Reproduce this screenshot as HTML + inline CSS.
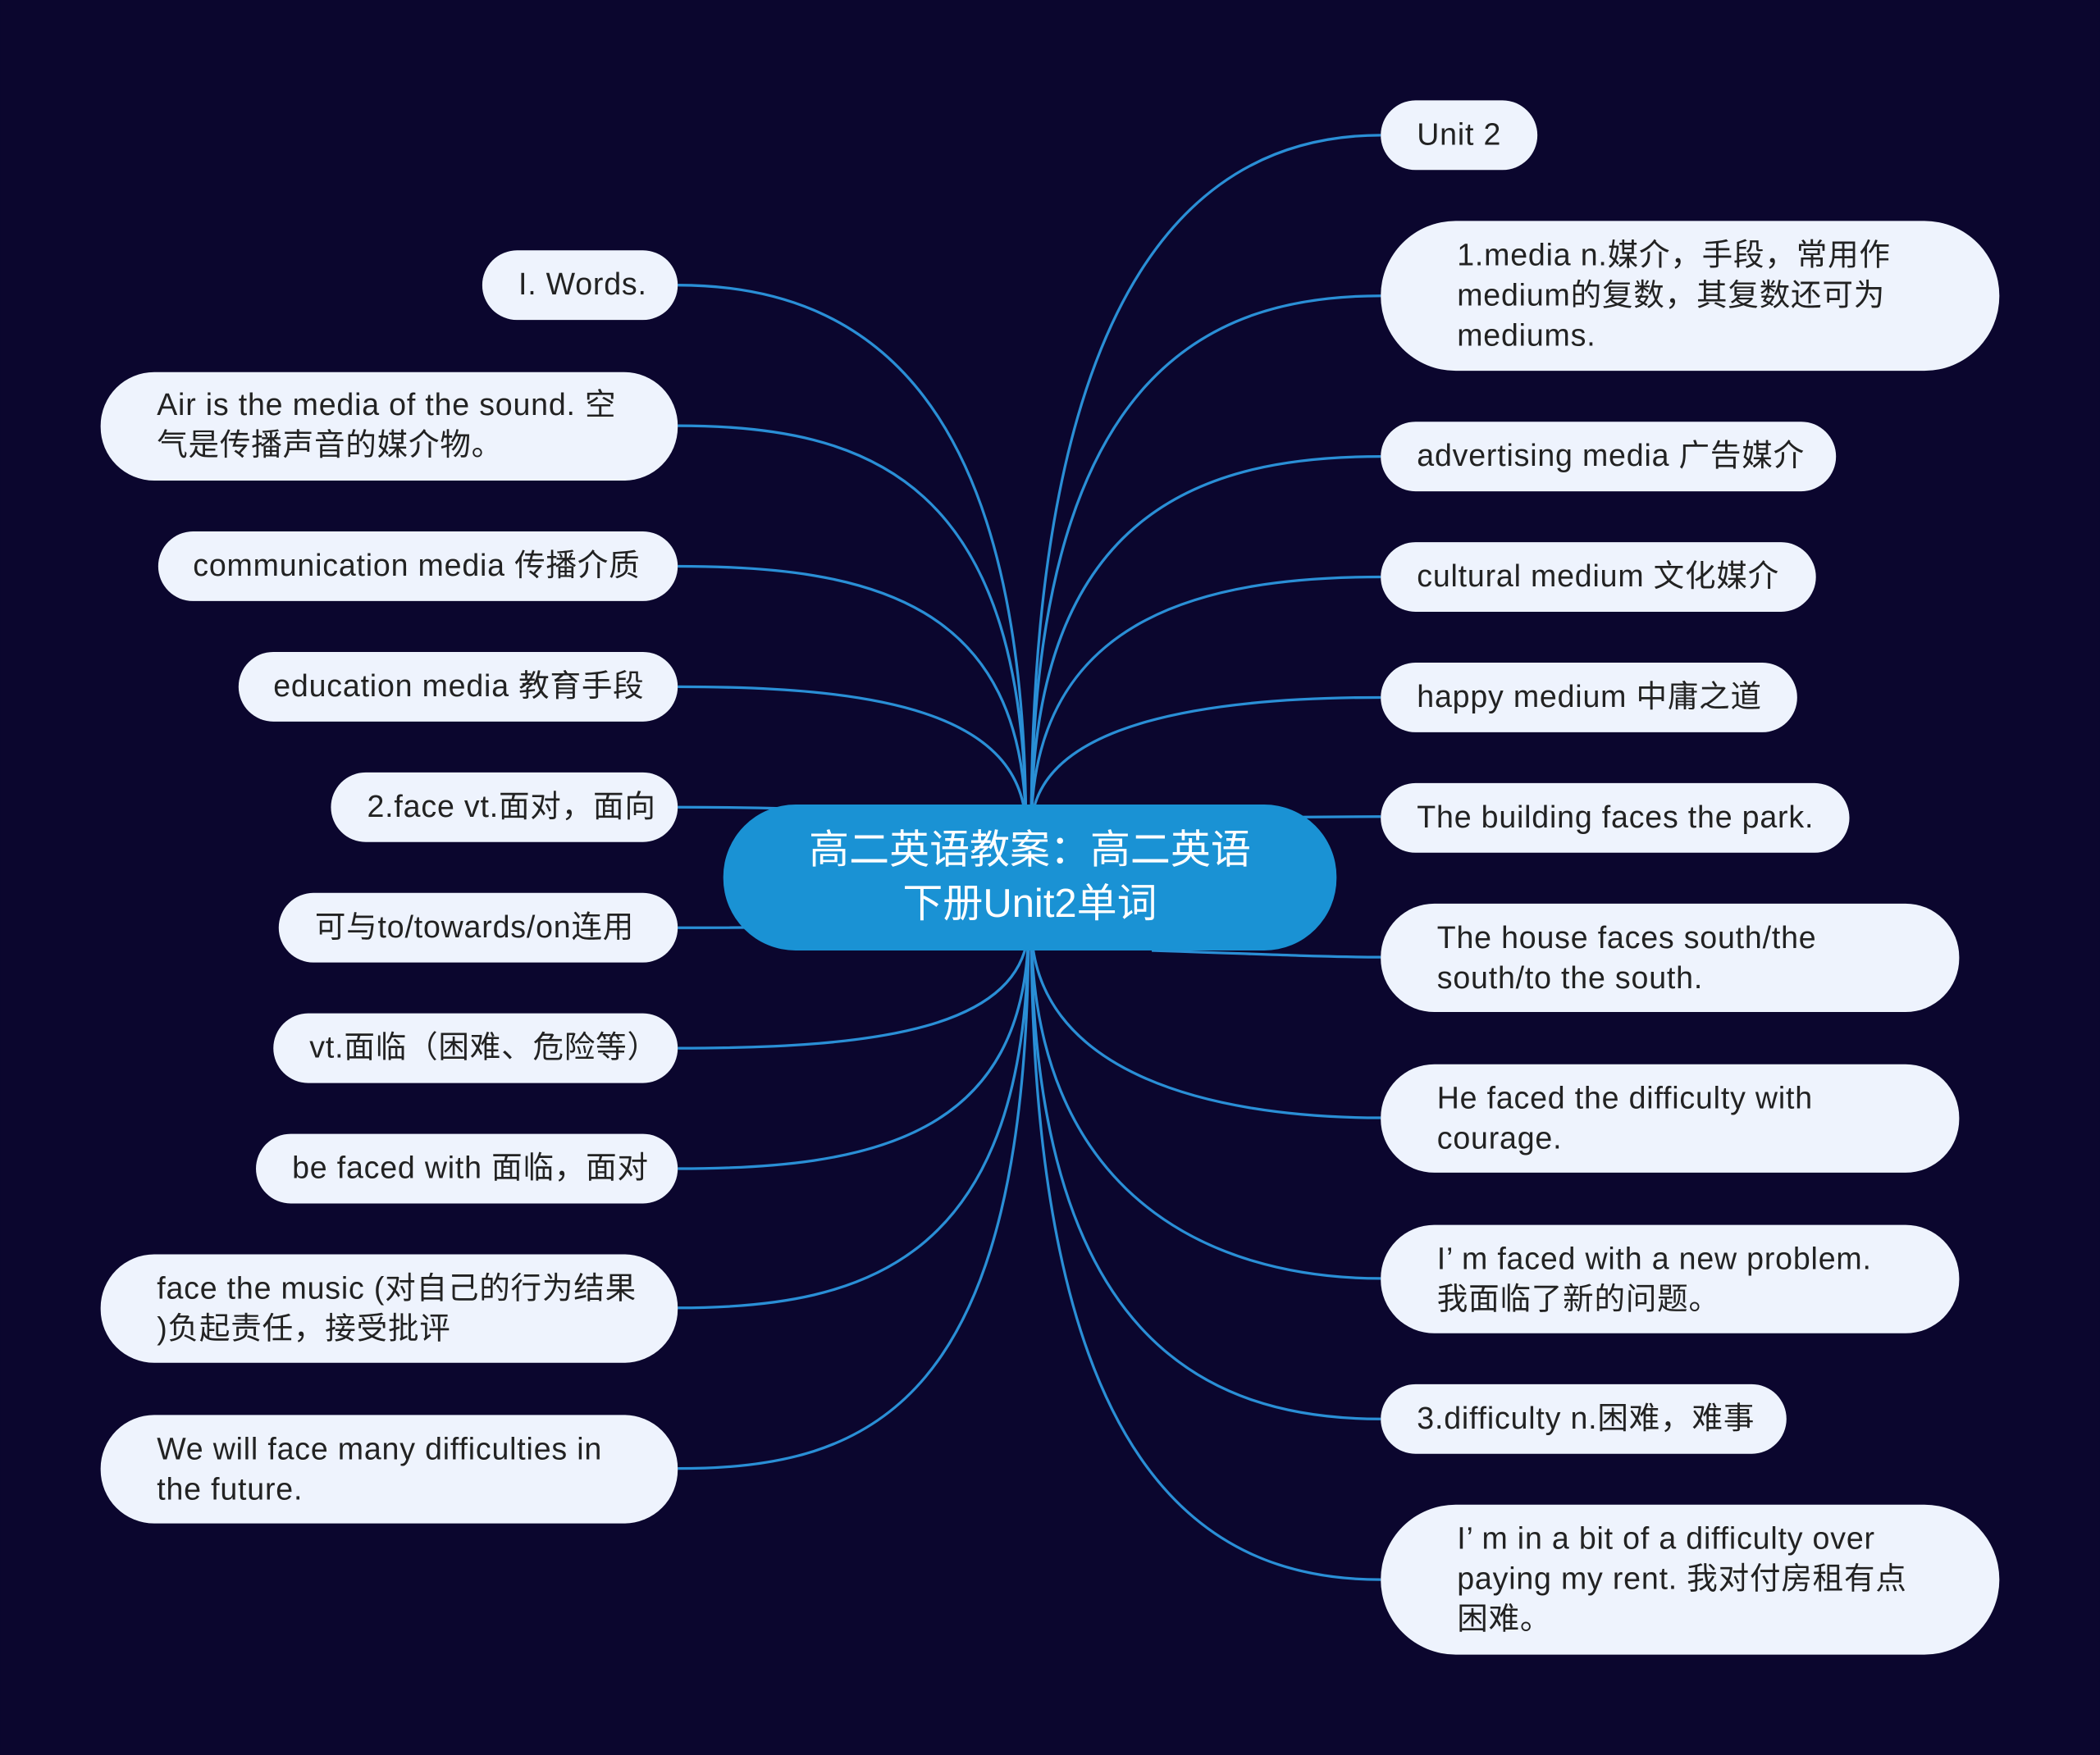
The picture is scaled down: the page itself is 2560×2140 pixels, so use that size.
<!DOCTYPE html>
<html><head><meta charset="utf-8"><style>
html,body{margin:0;padding:0;background:#0b062e;}
svg{display:block}
text{font-family:"Liberation Sans","Noto Sans CJK SC",sans-serif;}
.n{fill:#eef3fd}
.t{fill:#222;font-size:23px;letter-spacing:0.5px;dominant-baseline:middle}
.e{fill:none;stroke:#2a8fd6;stroke-width:2}
</style></head><body>
<svg width="2560" height="2140" viewBox="0 0 1568 1311" xmlns="http://www.w3.org/2000/svg">
<rect width="1568" height="1311" fill="#0b062e"/>
<g class="e">
<path d="M766 620 C766 300 650 213 506 213"/>
<path d="M766 620 C766 360 650 318 506 318"/>
<path d="M766 620 C766 450 650 423 506 423"/>
<path d="M766 620 C766 530 650 513 506 513"/>
<path d="M766 640 C766 610 650 603 506 603"/>
<path d="M766 680 C766 690 650 693 506 693"/>
<path d="M768 690 C768 770 650 783 506 783"/>
<path d="M768 690 C768 850 650 873 506 873"/>
<path d="M768 690 C768 940 650 977 506 977"/>
<path d="M768 690 C768 1050 650 1097 506 1097"/>
<path d="M770 620 C770 200 900 101 1031 101"/>
<path d="M770 620 C770 280 900 221 1031 221"/>
<path d="M770 620 C770 380 900 341 1031 341"/>
<path d="M770 620 C770 460 900 431 1031 431"/>
<path d="M770 620 C770 540 900 521 1031 521"/>
<path d="M880 611 C950 611 990 610 1031 610"/>
<path d="M860 710 C950 713 990 715 1031 715"/>
<path d="M770 690 C770 800 900 835 1031 835"/>
<path d="M770 690 C770 890 900 955 1031 955"/>
<path d="M770 690 C770 1000 900 1060 1031 1060"/>
<path d="M770 690 C770 1100 900 1180 1031 1180"/>
</g>
<rect x="540" y="601" width="458" height="109" rx="54" fill="#1a92d4"/>
<text x="769" y="637" font-size="30" fill="#fff" text-anchor="middle" dominant-baseline="middle">高二英语教案：高二英语</text>
<text x="769" y="677" font-size="30" fill="#fff" text-anchor="middle" dominant-baseline="middle">下册Unit2单词</text>

<rect class="n" x="360" y="187" width="146" height="52" rx="26"/><text class="t" x="387" y="214">I. Words.</text>
<rect class="n" x="75" y="278" width="431" height="81" rx="40"/><text class="t" x="117" y="304">Air is the media of the sound. 空</text><text class="t" x="117" y="334">气是传播声音的媒介物。</text>
<rect class="n" x="118" y="397" width="388" height="52" rx="26"/><text class="t" x="144" y="424">communication media 传播介质</text>
<rect class="n" x="178" y="487" width="328" height="52" rx="26"/><text class="t" x="204" y="514">education media 教育手段</text>
<rect class="n" x="247" y="577" width="259" height="52" rx="26"/><text class="t" x="274" y="604">2.face vt.面对，面向</text>
<rect class="n" x="208" y="667" width="298" height="52" rx="26"/><text class="t" x="235" y="694">可与to/towards/on连用</text>
<rect class="n" x="204" y="757" width="302" height="52" rx="26"/><text class="t" x="231" y="784">vt.面临（困难、危险等）</text>
<rect class="n" x="191" y="847" width="315" height="52" rx="26"/><text class="t" x="218" y="874">be faced with 面临，面对</text>
<rect class="n" x="75" y="937" width="431" height="81" rx="40"/><text class="t" x="117" y="964">face the music (对自己的行为结果</text><text class="t" x="117" y="994">)负起责任，接受批评</text>
<rect class="n" x="75" y="1057" width="431" height="81" rx="40"/><text class="t" x="117" y="1084">We will face many difficulties in</text><text class="t" x="117" y="1114">the future.</text>

<rect class="n" x="1031" y="75" width="117" height="52" rx="26"/><text class="t" x="1058" y="102">Unit 2</text>
<rect class="n" x="1031" y="165" width="462" height="112" rx="56"/><text class="t" x="1088" y="192">1.media n.媒介，手段，常用作</text><text class="t" x="1088" y="222">medium的复数，其复数还可为</text><text class="t" x="1088" y="252">mediums.</text>
<rect class="n" x="1031" y="315" width="340" height="52" rx="26"/><text class="t" x="1058" y="342">advertising media 广告媒介</text>
<rect class="n" x="1031" y="405" width="325" height="52" rx="26"/><text class="t" x="1058" y="432">cultural medium 文化媒介</text>
<rect class="n" x="1031" y="495" width="311" height="52" rx="26"/><text class="t" x="1058" y="522">happy medium 中庸之道</text>
<rect class="n" x="1031" y="585" width="350" height="52" rx="26"/><text class="t" x="1058" y="612">The building faces the park.</text>
<rect class="n" x="1031" y="675" width="432" height="81" rx="40"/><text class="t" x="1073" y="702">The house faces south/the</text><text class="t" x="1073" y="732">south/to the south.</text>
<rect class="n" x="1031" y="795" width="432" height="81" rx="40"/><text class="t" x="1073" y="822">He faced the difficulty with</text><text class="t" x="1073" y="852">courage.</text>
<rect class="n" x="1031" y="915" width="432" height="81" rx="40"/><text class="t" x="1073" y="942">I’ m faced with a new problem.</text><text class="t" x="1073" y="972">我面临了新的问题。</text>
<rect class="n" x="1031" y="1034" width="303" height="52" rx="26"/><text class="t" x="1058" y="1061">3.difficulty n.困难，难事</text>
<rect class="n" x="1031" y="1124" width="462" height="112" rx="56"/><text class="t" x="1088" y="1151">I’ m in a bit of a difficulty over</text><text class="t" x="1088" y="1181">paying my rent. 我对付房租有点</text><text class="t" x="1088" y="1211">困难。</text>
</svg>
</body></html>
